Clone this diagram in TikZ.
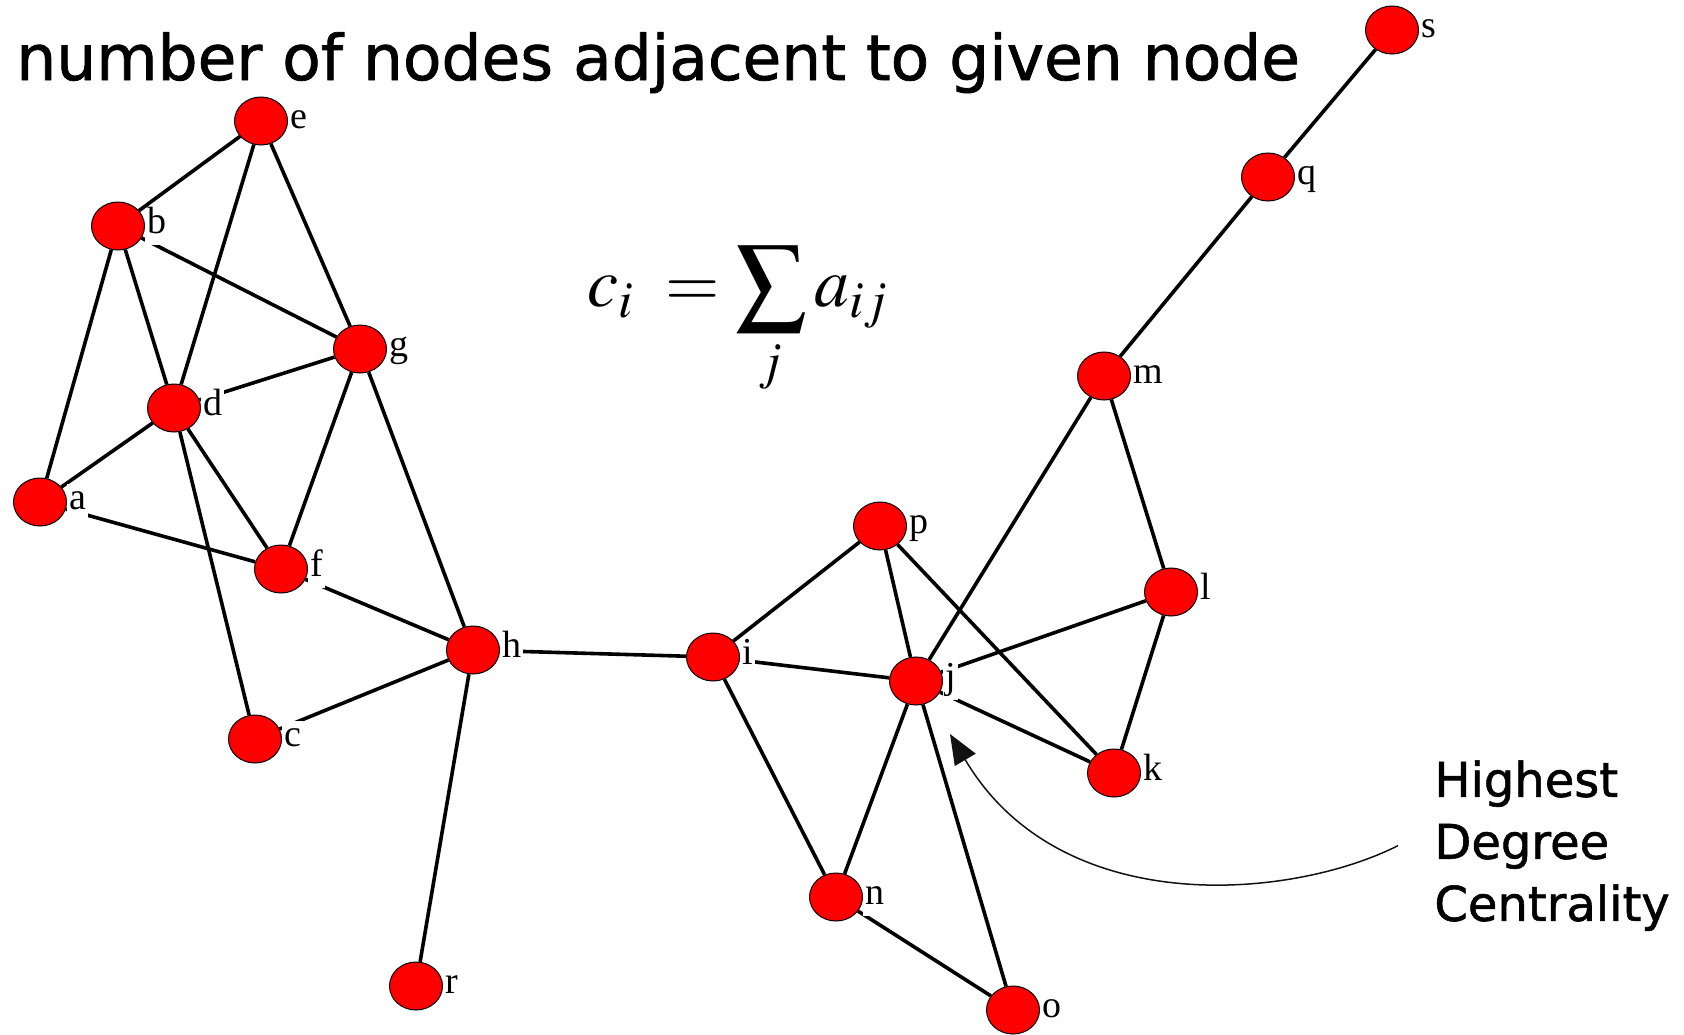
\documentclass[tikz,border=0pt]{standalone}
\usepackage{mathptmx}
\usepackage{fontspec}
\setmainfont{Liberation Serif}
\newfontfamily\handfont[FakeBold=1.2]{DejaVu Sans}
\usetikzlibrary{arrows.meta,shapes.geometric,backgrounds}
\definecolor{NodeRed}{HTML}{FF0000}
\definecolor{Ink}{HTML}{000000}
\definecolor{Pointer}{HTML}{111111}

\begin{document}
\begin{tikzpicture}[x=0.5pt, y=0.5pt,
  vertex/.style={ellipse, draw=Ink, line width=.5pt, fill=NodeRed, minimum width=26.5pt, minimum height=24pt, inner sep=0pt},
  tag/.style={font=\fontsize{19}{19}\selectfont, fill=white, inner sep=1pt, text height=12pt, text depth=4.5pt, label distance=0pt},
  link/.style={line width=1.8pt, color=Ink},
  pointer/.style={line width=.75pt, color=Pointer, -{Triangle[length=15pt,width=12pt]}}]
\useasboundingbox (0,0) rectangle (1684,-1034);
\node[anchor=base west, inner sep=0pt, font=\handfont\fontsize{31.5}{36}\selectfont] (title) at (16,-80) {number of nodes adjacent to given node};
\node[inner sep=0pt, font=\fontsize{35}{42}\selectfont] (formula) at (738,-321) {$\displaystyle c_i\;=\sum_j a_{ij}$};
\foreach \n/\x/\y in {a/40/502,b/118/226,c/255/739,d/174/408,e/261/121,f/281/569,g/360/349,h/473/650,i/713/657,j/916/681,k/1114/773,l/1171/592,m/1104/376,n/836/897,o/1013/1010,p/880/526,q/1268/177,r/416/986,s/1392/30}{\node[vertex, label={[tag]right:\n}] (\n) at (\x,-\y) {};}
\begin{scope}[on background layer]
\foreach \u/\v in {e/b,e/d,e/g,b/g,b/d,b/a,d/g,d/a,d/f,d/c,g/f,g/h,a/f,f/h,c/h,h/r,h/i,i/p,i/j,i/n,p/j,p/k,j/m,j/l,j/k,j/n,j/o,n/o,m/l,m/q,l/k,q/s}{\draw[link] (\u) -- (\v);}
\end{scope}
\node[anchor=north west, align=left, inner sep=0pt, font=\handfont\fontsize{24}{31}\selectfont] (centrality) at (1434,-760) {Highest\\Degree\\Centrality};
\coordinate (tip) at (950,-734);
\draw[pointer] ([xshift=-18pt]centrality.west) .. controls (1290,-900) and (1060,-920) .. (tip);
\end{tikzpicture}
\end{document}
